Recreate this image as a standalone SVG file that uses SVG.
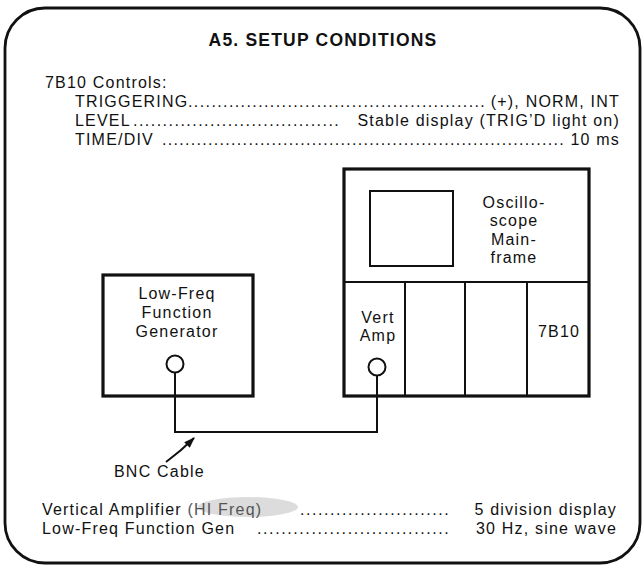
<svg xmlns="http://www.w3.org/2000/svg" width="644" height="568" viewBox="0 0 644 568">
<defs>
<style>
text{font-family:"Liberation Sans",Arial,Helvetica,sans-serif;fill:#111;font-size:16px;letter-spacing:1.2px;}
.b{text-anchor:middle;}
.h{font-size:17.5px;font-weight:bold;text-anchor:middle;}
.e{text-anchor:end;}
.box{fill:none;stroke:#111;stroke-width:3.2;}
.thin{fill:none;stroke:#111;stroke-width:2;}
.jack{fill:#fff;stroke:#111;stroke-width:2;}
.cable{fill:none;stroke:#111;stroke-width:2;}
</style>
<marker id="ah" viewBox="0 0 10 10" refX="9" refY="5" markerWidth="11" markerHeight="8" orient="auto" markerUnits="userSpaceOnUse" preserveAspectRatio="none">
<path d="M0,0 L10,5 L0,10 Z" fill="#111"/>
</marker>
</defs>
<rect width="644" height="568" fill="#fff"/>
<rect id="frame" x="5" y="8" width="635" height="555" rx="40" ry="40" fill="none" stroke="#111" stroke-width="2.8"/>

<text class="h" x="323" y="46">A5. SETUP CONDITIONS</text>

<g id="controls">
<text x="45" y="88">7B10 Controls:</text>
<text x="75" y="107">TRIGGERING</text>
<text x="188" y="107" textLength="298" lengthAdjust="spacing">...................................................</text>
<text class="e" x="620" y="107">(+), NORM, INT</text>
<text x="75" y="126">LEVEL</text>
<text x="133" y="126" textLength="207" lengthAdjust="spacing">...................................</text>
<text class="e" x="620" y="126">Stable display (TRIG’D light on)</text>
<text x="75" y="145">TIME/DIV</text>
<text x="162" y="145" textLength="403" lengthAdjust="spacing">......................................................................</text>
<text class="e" x="620" y="145">10 ms</text>
</g>

<g id="mainframe">
<rect class="box" x="344" y="169" width="245" height="227"/>
<rect class="thin" x="370" y="191" width="83" height="75"/>
<line class="thin" x1="344" y1="282" x2="589" y2="282"/>
<line class="thin" x1="405" y1="282" x2="405" y2="396"/>
<line class="thin" x1="465" y1="282" x2="465" y2="396"/>
<line class="thin" x1="527" y1="282" x2="527" y2="396"/>
<text class="b" x="514" y="208">Oscillo-</text>
<text class="b" x="514" y="226">scope</text>
<text class="b" x="514" y="245">Main-</text>
<text class="b" x="514" y="263">frame</text>
</g>

<g id="vertamp">
<text class="b" x="378" y="323">Vert</text>
<text class="b" x="378" y="341">Amp</text>
<circle class="jack" cx="377" cy="367" r="8.5"/>
</g>

<g id="plugin7b10">
<text class="b" x="559" y="337">7B10</text>
</g>

<g id="generator">
<rect class="box" x="103" y="275" width="150" height="121"/>
<text class="b" x="177" y="299">Low-Freq</text>
<text class="b" x="177" y="318">Function</text>
<text class="b" x="177" y="337">Generator</text>
<circle class="jack" cx="175" cy="364" r="8.5"/>
</g>

<g id="connectors">
<path class="cable" d="M175,372.5 V432 H377 V375.5"/>
<path d="M166,462 Q181,451 194,438" fill="none" stroke="#111" stroke-width="2" marker-end="url(#ah)"/>
</g>

<text x="114" y="477">BNC Cable</text>

<g id="settings">
<ellipse cx="248" cy="507" rx="50" ry="10" fill="#dcdcdc"/>
<text x="42" y="515">Vertical Amplifier <tspan fill="#555">(HI Freq)</tspan></text>
<text x="300" y="515" textLength="150" lengthAdjust="spacing">.........................</text>
<text class="e" x="617" y="515">5 division display</text>
<text x="42" y="534">Low-Freq Function Gen</text>
<text x="257" y="534" textLength="193" lengthAdjust="spacing">................................</text>
<text class="e" x="617" y="534">30 Hz, sine wave</text>
</g>
</svg>
